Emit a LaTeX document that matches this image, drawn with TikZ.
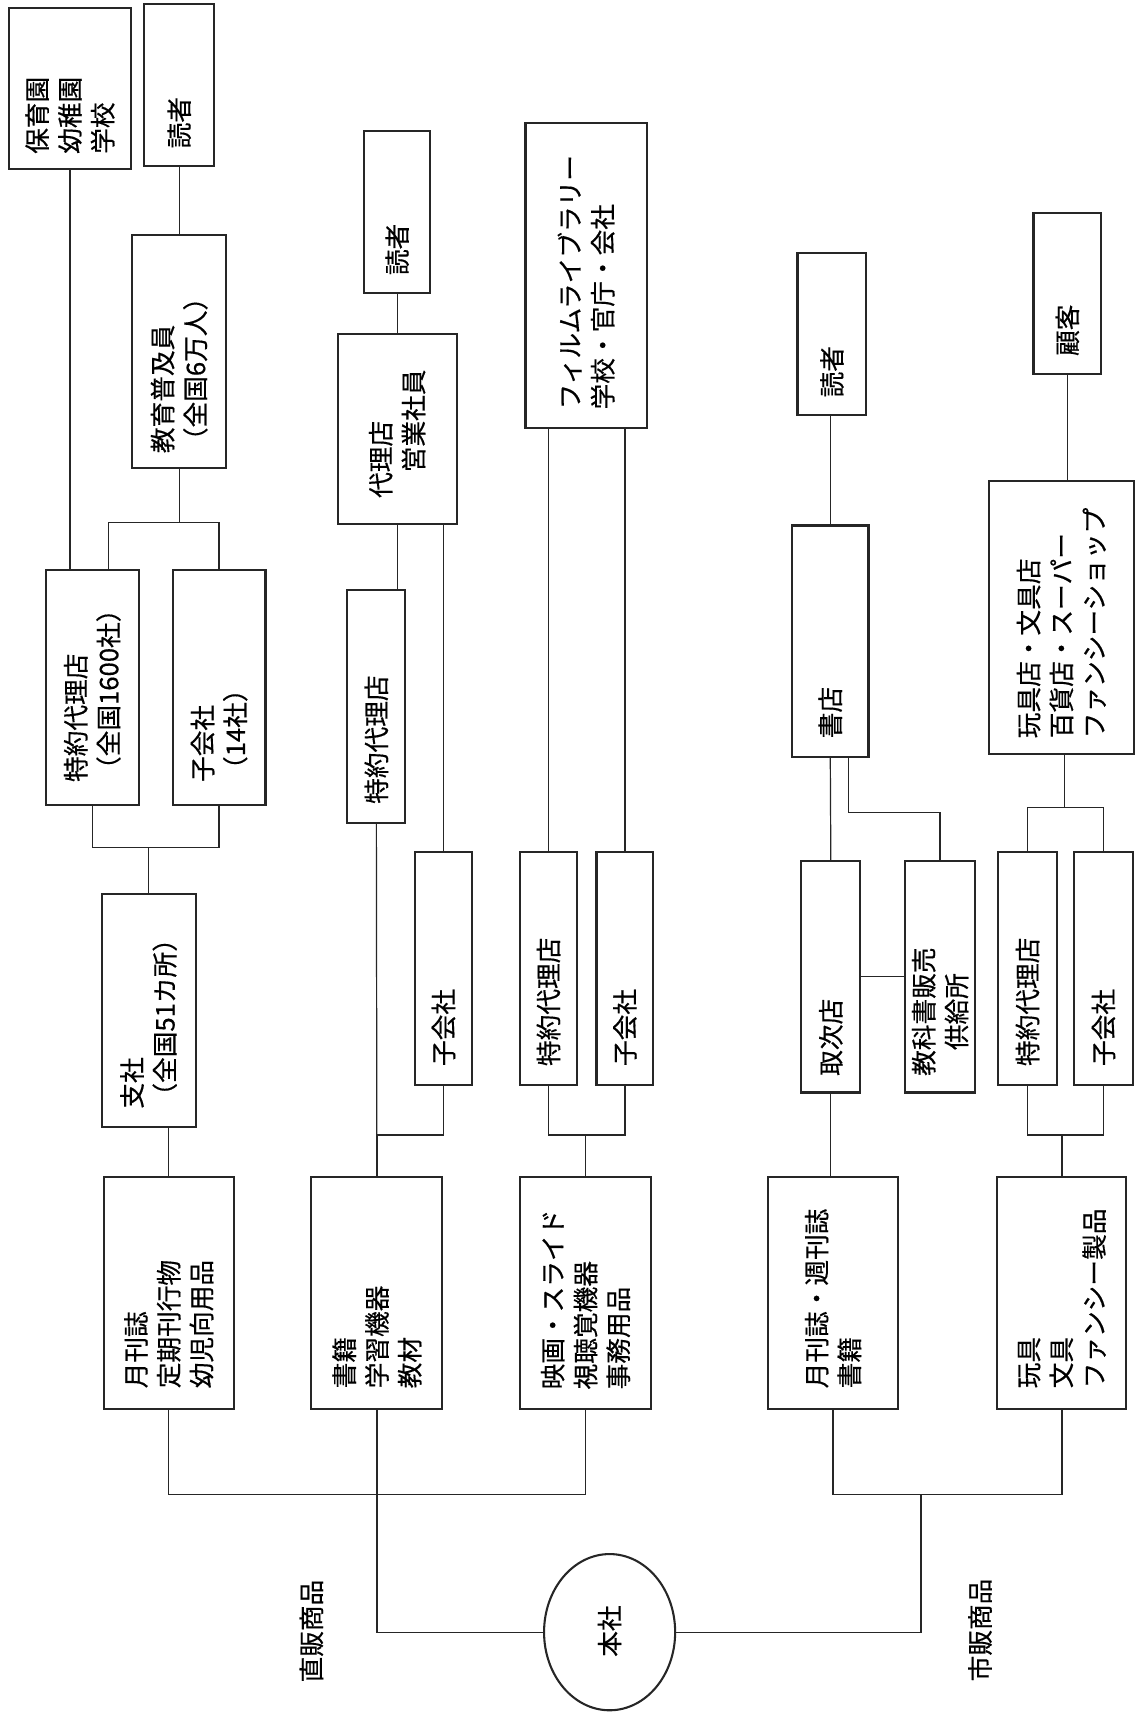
\documentclass[tikz,border=0pt]{standalone}
\usepackage{fontspec}
\setmainfont[FakeBold=0.4]{Noto Sans CJK JP}
\usetikzlibrary{calc,shapes.geometric}
\tikzset{
  box/.style={draw=black!85, line width=1.9pt, inner sep=0pt},
  txt/.style={rotate=90, anchor=west, align=left, inner sep=0pt,
              font=\fontsize{23.5}{30}\selectfont},
  tag/.style={rotate=90, inner sep=0pt, font=\fontsize{23.5}{30}\selectfont},
  con/.style={draw=black!85, line width=1.1pt}
}

\begin{document}
\begin{tikzpicture}[x=1pt,y=-1pt]
  \path[fill=white, use as bounding box] (0,0) rectangle (1040,1568);

  % direct sales, left half
  \node[box, minimum width=112, minimum height=148] (hoiku) at (64,81) {};
  \node[txt] (hoikut) at ($(hoiku.south)+(0,-15)$) {保育園\\幼稚園\\学校};
  \node[box, minimum width=64, minimum height=148] (rdA) at (164,78) {};
  \node[txt] (rdAt) at ($(rdA.south)+(0,-17)$) {読者};
  \node[box, minimum width=86, minimum height=213] (fukyu) at (164,321.5) {};
  \node[txt] (fukyut) at ($(fukyu.south)+(0,-14)$) {教育普及員\\（全国6万人）};
  \node[box, minimum width=85, minimum height=215] (tokuA) at (84.5,629.5) {};
  \node[txt] (tokuAt) at ($(tokuA.south)+(0,-22)$) {特約代理店\\（全国1600社）};
  \node[box, minimum width=85, minimum height=215] (koA) at (200.5,629.5) {};
  \node[txt] (koAt) at ($(koA.south)+(0,-22)$) {子会社\\（14社）};
  \node[box, minimum width=86, minimum height=214] (shisha) at (136,925) {};
  \node[txt] (shishat) at ($(shisha.south)+(0,-18)$) {支社\\（全国51カ所）};
  \node[box, minimum width=119, minimum height=213] (mag) at (154.5,1183.5) {};
  \node[txt] (magt) at ($(mag.south)+(0,-20)$) {月刊誌\\定期刊行物\\幼児向用品};

  \node[box, minimum width=61, minimum height=148] (rdB) at (363.5,194) {};
  \node[txt] (rdBt) at ($(rdB.south)+(0,-17)$) {読者};
  \node[box, minimum width=109, minimum height=174] (dairi) at (363.5,393) {};
  \node[txt] (dairit) at ($(dairi.south)+(0,-25)$) {代理店\\\hspace*{1em}営業社員};
  \node[box, minimum width=53, minimum height=213] (tokuB) at (344.5,646.5) {};
  \node[txt] (tokuBt) at ($(tokuB.south)+(0,-18)$) {特約代理店};
  \node[box, minimum width=52, minimum height=213] (koB) at (406,886.5) {};
  \node[txt] (koBt) at ($(koB.south)+(0,-18)$) {子会社};
  \node[box, minimum width=120, minimum height=213] (books) at (345,1183.5) {};
  \node[txt] (bookst) at ($(books.south)+(0,-20)$) {書籍\\学習機器\\教材};

  \node[box, minimum width=111, minimum height=279] (film) at (536.5,252.5) {};
  \node[txt] (filmt) at ($(film.south)+(0,-18)$) {フィルムライブラリー\\学校・官庁・会社};
  \node[box, minimum width=52, minimum height=213] (tokuC) at (502,886.5) {};
  \node[txt] (tokuCt) at ($(tokuC.south)+(0,-18)$) {特約代理店};
  \node[box, minimum width=52, minimum height=213] (koC) at (572,886.5) {};
  \node[txt] (koCt) at ($(koC.south)+(0,-18)$) {子会社};
  \node[box, minimum width=120, minimum height=213] (av) at (536,1183.5) {};
  \node[txt] (avt) at ($(av.south)+(0,-19)$) {映画・スライド\\視聴覚機器\\事務用品};

  % retail sales, right half
  \node[box, minimum width=63, minimum height=148] (rdC) at (761.5,306) {};
  \node[txt] (rdCt) at ($(rdC.south)+(0,-17)$) {読者};
  \node[box, minimum width=70, minimum height=212] (shoten) at (760,587) {};
  \node[txt] (shotent) at ($(shoten.south)+(0,-18)$) {書店};
  \node[box, minimum width=54, minimum height=212] (toritsugi) at (760.5,894) {};
  \node[txt] (toritsugit) at ($(toritsugi.south)+(0,-16)$) {取次店};
  \node[box, minimum width=64, minimum height=212] (kyokasho) at (860.5,894) {};
  \node[txt] (kyokashot) at ($(kyokasho.south)+(0,-16)$) {教科書販売\\\hspace*{1em}供給所};
  \node[box, minimum width=119, minimum height=213] (mag2) at (762.5,1183.5) {};
  \node[txt] (mag2t) at ($(mag2.south)+(0,-20)$) {月刊誌・週刊誌\\書籍};

  \node[box, minimum width=62, minimum height=147] (kokyaku) at (977,268.5) {};
  \node[txt] (kokyakut) at ($(kokyaku.south)+(0,-17)$) {顧客};
  \node[box, minimum width=133, minimum height=250] (gangu) at (971.5,565) {};
  \node[txt] (gangut) at ($(gangu.south)+(0,-15)$) {玩具店・文具店\\百貨店・スーパー\\ファンシーショップ};
  \node[box, minimum width=54, minimum height=213] (tokuD) at (940.5,886.5) {};
  \node[txt] (tokuDt) at ($(tokuD.south)+(0,-18)$) {特約代理店};
  \node[box, minimum width=54, minimum height=213] (koD) at (1010,886.5) {};
  \node[txt] (koDt) at ($(koD.south)+(0,-18)$) {子会社};
  \node[box, minimum width=118, minimum height=213] (toy) at (972,1183.5) {};
  \node[txt] (toyt) at ($(toy.south)+(0,-20)$) {玩具\\文具\\ファンシー製品};

  % head office
  \node[box, ellipse, minimum width=120, minimum height=143] (honsha) at (558,1494) {};
  \node[tag] (honshat) at (558,1493) {本社};
  \node[tag] (direct) at (285,1493) {直販商品};
  \node[tag] (retail) at (897,1492) {市販商品};

  \coordinate (hubL) at (345,1368);
  \coordinate (hubR) at (843,1368);

  % connectors
  \draw[con] (hoiku.south) -- (hoiku.south |- tokuA.north);
  \draw[con] (rdA) -- (fukyu);
  \draw[con] (fukyu.south) -- ++(0,49) coordinate (jA);
  \draw[con] ($(tokuA.north)+(15,0)$) |- (jA) -| (koA.north);
  \draw[con] (tokuA.south) -- ++(0,38) coordinate (jB) -| (koA.south);
  \draw[con] (shisha.north) -- (shisha.north |- jB);
  \draw[con] (mag.north) -- (mag.north |- shisha.south);

  \draw[con] (rdB) -- (dairi);
  \draw[con] (tokuB.north -| dairi.south) -- (dairi.south);
  \draw[con] (koB.north) -- (koB.north |- dairi.south);
  \draw[con] (tokuB.south) -- (books.north);
  \draw[con] (koB.south) -- ++(0,45) -| (books.north);

  \draw[con] (tokuC.north) -- (tokuC.north |- film.south);
  \draw[con] (koC.north) -- (koC.north |- film.south);
  \draw[con] (tokuC.south) -- ++(0,45) coordinate (jC) -| (koC.south);
  \draw[con] (av.north) -- (av.north |- jC);

  \draw[con] (mag.south) |- (hubL) -| (av.south);
  \draw[con] (books.south) |- (honsha.west);

  \draw[con] (shoten.north) -- (shoten.north |- rdC.south);
  \draw[con] (shoten.south) -- (toritsugi.north);
  \draw[con] ($(shoten.south)+(17,0)$) -- ++(0,50) -| (kyokasho.north);
  \draw[con] (toritsugi) -- (kyokasho);
  \draw[con] (toritsugi.south) -- (toritsugi.south |- mag2.north);

  \draw[con] (kokyaku.south) -- (kokyaku.south |- gangu.north);
  \draw[con] ($(gangu.south)+(3,0)$) -- ++(0,48) coordinate (jD);
  \draw[con] (tokuD.north) |- (jD) -| (koD.north);
  \draw[con] (tokuD.south) -- ++(0,45) coordinate (jE) -| (koD.south);
  \draw[con] (toy.north) -- (toy.north |- jE);

  \draw[con] (mag2.south) |- (hubR) -| (toy.south);
  \draw[con] (honsha.east) -| (hubR);
\end{tikzpicture}
\end{document}
